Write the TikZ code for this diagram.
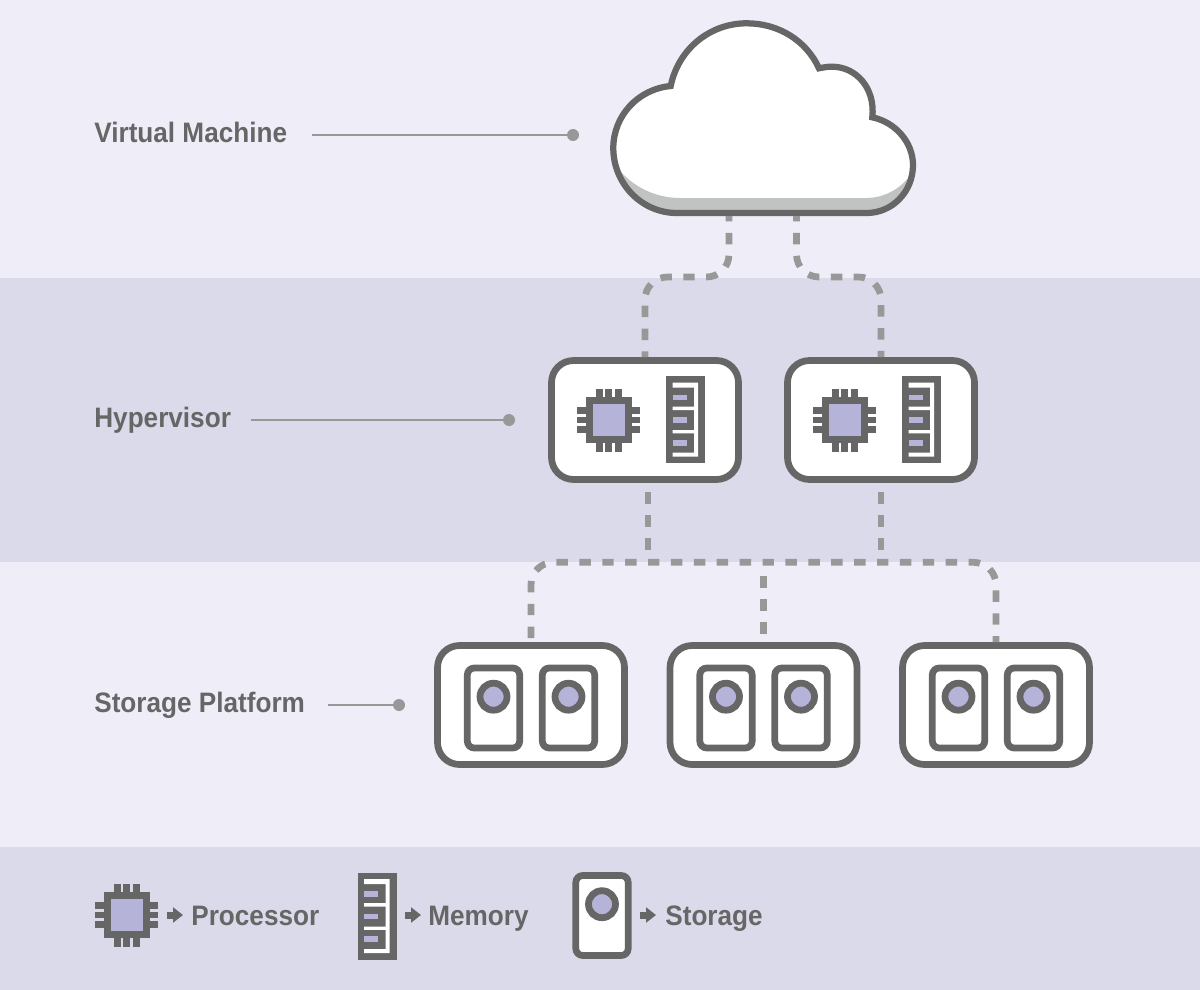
\documentclass[tikz,border=0pt]{standalone}
\usepackage{fontspec}
\setmainfont{Liberation Sans}[FakeStretch=0.93]
\usetikzlibrary{arrows.meta}
\definecolor{bandlight}{HTML}{EFEEF8}
\definecolor{banddark}{HTML}{DBDAEB}
\definecolor{icongray}{HTML}{666666}
\definecolor{linkgray}{HTML}{989898}
\definecolor{shadegray}{HTML}{C1C3C2}
\definecolor{slotpurple}{HTML}{B6B3D9}
\def\cloudpath{(676.7,213) -- (866.7,213)
  .. controls (892,213) and (913,192) .. (913,165)
  .. controls (913,142) and (895,122) .. (872.3,117.3)
  .. controls (875.5,88) and (856,66.7) .. (832,66.7)
  .. controls (827,66.7) and (823,67.5) .. (819,68.3)
  .. controls (806,40) and (778,23.3) .. (746.7,23.3)
  .. controls (709,23.3) and (678,50) .. (670.7,86)
  .. controls (638,89) and (613.3,116) .. (613.3,148)
  .. controls (613.3,184) and (642,213) .. (676.7,213) -- cycle}
\tikzset{
  layertext/.style={font=\bfseries\fontsize{16}{18}\selectfont, text=icongray, anchor=base west, inner sep=0pt},
  hostbox/.style={draw=icongray, fill=white, line width=0.135cm, rounded corners=0.44cm,
    minimum width=3.74cm, minimum height=2.38cm, inner sep=0pt},
  dotmark/.style={circle, fill=linkgray, minimum size=0.24cm, inner sep=0pt},
  leader/.style={draw=linkgray, line width=0.04cm},
  link/.style={draw=linkgray, line width=0.135cm, dash pattern=on 0.229cm off 0.229cm},
  keyarrow/.style={draw=icongray, line width=0.14cm, -{Triangle[length=0.2cm,width=0.3cm]}},
  chip/.pic={
    \foreach \d in {-9.5,0,9.5} {
      \fill[icongray] (\d-3.35,-31.5) rectangle (\d+3.35,31.5);
      \fill[icongray] (-31.5,\d-3.35) rectangle (31.5,\d+3.35);
    }
    \filldraw[fill=slotpurple, draw=icongray, line width=0.135cm] (-19.5,-19.5) rectangle (19.5,19.5);
  },
  ramstick/.pic={
    \fill[icongray] (-19.5,-43.5) rectangle (19.5,43.5);
    \fill[white] (-13,-36.8) -- (12.5,-36.8) -- (12.5,37) -- (-13,37) -- (-13,33) -- (8.5,33)
      -- (8.5,13.8) -- (-13,13.8) -- (-13,10.5) -- (8.5,10.5) -- (8.5,-9.5) -- (-13,-9.5)
      -- (-13,-12.8) -- (8.5,-12.8) -- (8.5,-32) -- (-13,-32) -- cycle;
    \foreach \d in {-22.2,0.5,23.2} {
      \fill[slotpurple] (-13,\d-2.8) rectangle (1,\d+2.8);
    }
  },
  drive/.pic={
    \draw[draw=icongray, fill=white, line width=0.135cm, rounded corners=0.14cm] (-26.2,-40) rectangle (26.2,40);
    \draw[draw=icongray, fill=slotpurple, line width=0.135cm] (0,-11.3) circle (13.5);
  },
}
\begin{document}
\begin{tikzpicture}[x=0.02cm, y=-0.02cm]
\useasboundingbox (0,0) rectangle (1200,990);

\fill[bandlight] (0,0) rectangle (1200,278);
\fill[banddark] (0,278) rectangle (1200,562);
\fill[bandlight] (0,562) rectangle (1200,847);
\fill[banddark] (0,847) rectangle (1200,990);

\fill[white] \cloudpath;
\begin{scope}
\clip \cloudpath;
\fill[shadegray] (612,160) .. controls (628,186) and (655,198) .. (680,198) -- (866,198)
  .. controls (885,198) and (903,188) .. (914,170) -- (920,220) -- (605,220) -- cycle;
\end{scope}
\draw[icongray, line width=0.125cm, line join=miter] \cloudpath;

\coordinate (cloudleft) at (729,216);
\coordinate (cloudright) at (796.5,216);

\node[hostbox] (hv1) at (645,420) {};
\node[hostbox] (hv2) at (881,420) {};
\pic at (608.7,420) {chip};
\pic at (685.5,419.5) {ramstick};
\pic at (844.7,420) {chip};
\pic at (921.5,419.5) {ramstick};

\foreach \nm/\cx in {sp1/531,sp2/763.5,sp3/996} {
  \node[hostbox] (\nm) at (\cx,705) {};
  \pic at (\cx-37.5,708) {drive};
  \pic at (\cx+37.5,708) {drive};
}

\coordinate (busleft) at (645,277);
\coordinate (busright) at (881,277);
\draw[link, dash phase=0.12cm, rounded corners=0.45cm] (cloudleft) |- (busleft) -- (hv1.north);
\draw[link, dash phase=0.12cm, rounded corners=0.45cm] (cloudright) |- (busright) -- (hv2.north);

\coordinate (hv1foot) at (648,482.9);
\coordinate (hv1end) at (648,552);
\coordinate (hv2end) at (881,552);
\coordinate (storemid) at (763.5,570);
\coordinate (storeend) at (996,562.3);
\draw[link, dash phase=0.27cm] (hv1foot) -- (hv1end);
\draw[link, dash phase=0.27cm] (hv2.south) -- (hv2end);
\draw[link, dash phase=0.286cm] (sp2.north) -- (storemid);
\draw[link, dash phase=0.378cm, rounded corners=0.45cm] (sp1.north) |- (storeend) -- (sp3.north);

\node[layertext] (vmlabel) at (94,142) {Virtual Machine};
\node[layertext] (hvlabel) at (94,427) {Hypervisor};
\node[layertext] (splabel) at (94,712) {Storage Platform};
\node[dotmark] (vmdot) at (573,135) {};
\node[dotmark] (hvdot) at (509,420) {};
\node[dotmark] (spdot) at (399,705) {};
\coordinate (vmline) at (312,135);
\coordinate (hvline) at (251,420);
\coordinate (spline) at (328,705);
\draw[leader] (vmline) -- (vmdot);
\draw[leader] (hvline) -- (hvdot);
\draw[leader] (spline) -- (spdot);

\pic at (126.7,915) {chip};
\pic at (377,916) {ramstick};
\pic at (602,915.5) {drive};
\coordinate (keya) at (167,915);
\coordinate (keyb) at (183,915);
\coordinate (keyc) at (405,915);
\coordinate (keyd) at (421,915);
\coordinate (keye) at (640,915);
\coordinate (keyf) at (656,915);
\draw[keyarrow] (keya) -- (keyb);
\draw[keyarrow] (keyc) -- (keyd);
\draw[keyarrow] (keye) -- (keyf);
\node[layertext] (keychip) at (191,925) {Processor};
\node[layertext] (keyram) at (428,925) {Memory};
\node[layertext] (keydrive) at (665,925) {Storage};
\end{tikzpicture}
\end{document}
